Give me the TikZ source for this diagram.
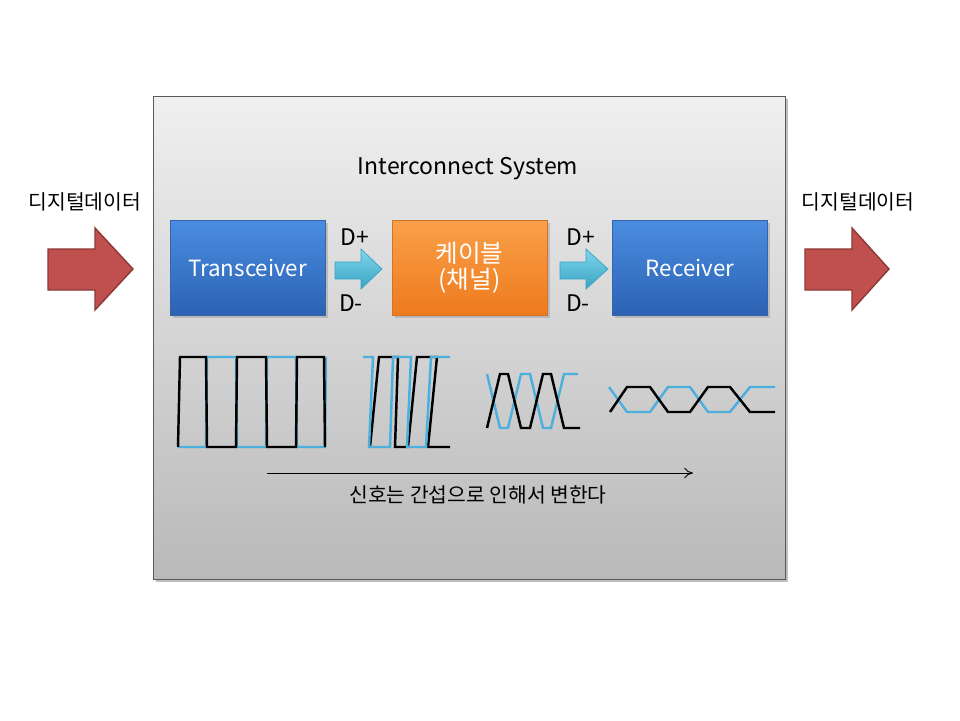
\documentclass[tikz,border=0pt]{standalone}
\usepackage{fontspec}
\setmainfont{Noto Sans CJK KR}
\usetikzlibrary{positioning,arrows.meta,shadows}

\definecolor{panelline}{HTML}{5A5A5A}
\definecolor{blueTop}{HTML}{4A8DE0}
\definecolor{blueBot}{HTML}{2C62B4}
\definecolor{blueLine}{HTML}{3565A8}
\definecolor{orangeTop}{HTML}{FAA048}
\definecolor{orangeBot}{HTML}{EE7A1E}
\definecolor{orangeLine}{HTML}{D0742A}
\definecolor{redFill}{HTML}{C0504D}
\definecolor{redLine}{HTML}{8C3836}
\definecolor{cyanTop}{HTML}{7FD6EC}
\definecolor{cyanBot}{HTML}{3AA3C4}
\definecolor{waveCyan}{HTML}{4DB0DC}

\tikzset{
  block/.style={minimum width=3.1cm, minimum height=1.9cm, text=white,
    font=\fontsize{12.7}{14}\selectfont, align=center,
    drop shadow={opacity=0.35, shadow xshift=1.5pt, shadow yshift=-1.5pt}},
  blueblock/.style={block, top color=blueTop, bottom color=blueBot, draw=blueLine},
  orangeblock/.style={block, top color=orangeTop, bottom color=orangeBot, draw=orangeLine,
    font=\fontsize{14}{15}\selectfont},
  bigarrow/.style={fill=redFill, draw=redLine, line width=0.8pt},
  smallarrow/.style={top color=cyanTop, bottom color=cyanBot, draw=cyanBot, line width=0.4pt},
  wave/.style={line width=1.4pt, line join=miter},
  lbl/.style={font=\fontsize{13}{14}\selectfont},
  hangul/.style={font=\fontsize{11.6}{13}\selectfont}
}

\begin{document}
\begin{tikzpicture}[x=0.02cm, y=-0.02cm, >=Stealth]
\useasboundingbox (0,0) rectangle (960,720);

% Panel
\fill[black, opacity=0.25] (156,99) rectangle (788,582);
\shade[top color=gray!12, bottom color=gray!55, draw=panelline, line width=0.5pt] (153,96) rectangle (785,579);
\node[font=\fontsize{13.1}{15}\selectfont] (title) at (468,169) {Interconnect System};

% Data in / out
\node[hangul] (inlbl) at (85,202) {디지털데이터};
\node[hangul] (outlbl) at (858,202) {디지털데이터};
\draw[bigarrow] (48,249) -- (95,249) -- (95,228) -- (133,269) -- (95,310) -- (95,290) -- (48,290) -- cycle;
\draw[bigarrow] (805,249) -- (852,249) -- (852,228) -- (889,269) -- (852,310) -- (852,290) -- (805,290) -- cycle;

% Blocks
\node[blueblock] (tx) at (247.5,267.5) {Transceiver};
\node[orangeblock] (cable) at (469.5,267.5) {케이블\\(채널)};
\node[blueblock] (rx) at (690,267.5) {Receiver};

% D+/D- arrows
\draw[smallarrow] (335,262) -- (361,262) -- (361,249) -- (382,269) -- (361,289) -- (361,279) -- (335,279) -- cycle;
\draw[smallarrow] (560,262) -- (586,262) -- (586,249) -- (608,269) -- (586,289) -- (586,279) -- (560,279) -- cycle;
\node[lbl] (dp1) at (355,237) {D+};
\node[lbl] (dm1) at (351,303) {D-};
\node[lbl] (dp2) at (581,237) {D+};
\node[lbl] (dm2) at (578,303) {D-};

% Waveform 1
\draw[wave, waveCyan] (178,447) -- (206,447) -- (207,357) -- (236,357) -- (237,447) -- (266,447) -- (267,357) -- (296,357) -- (297,447) -- (325,447) -- (326,357);
\draw[wave, black] (178,447) -- (180,357) -- (206,357) -- (207,447) -- (236,447) -- (237,357) -- (266,357) -- (267,447) -- (296,447) -- (297,357) -- (324,357) -- (325,447);

% Waveform 2
\draw[wave, black] (370,447) -- (379,357) -- (398,357) -- (395,447) -- (408,447) -- (417,357) -- (437,357) -- (428,447) -- (450,447);
\draw[wave, waveCyan] (363,357) -- (373,357) -- (369,447) -- (390,447) -- (393,357) -- (411,357) -- (407,447) -- (426,447) -- (431,357) -- (450,357);

% Waveform 3
\draw[wave, waveCyan] (487,374) -- (500,428) -- (508,428) -- (521,374) -- (530,374) -- (543,428) -- (551,428) -- (564,374) -- (578,374);
\draw[wave, black] (487,428) -- (500,374) -- (508,374) -- (521,428) -- (530,428) -- (543,374) -- (551,374) -- (564,428) -- (580,428);

% Waveform 4
\draw[wave, waveCyan] (609,387) -- (627,412) -- (650,412) -- (668,387) -- (690,387) -- (708,412) -- (730,412) -- (750,387) -- (775,387);
\draw[wave, black] (610,412) -- (627,387) -- (650,387) -- (668,412) -- (690,412) -- (708,387) -- (730,387) -- (750,412) -- (775,412);

% Interference arrow
\coordinate (tstart) at (267,473);
\coordinate (tend) at (693,473);
\draw[-{To[length=5pt,width=6pt]}, line width=0.5pt] (tstart) -- (tend);
\node[hangul] (note) at (478,495) {신호는 간섭으로 인해서 변한다};

\end{tikzpicture}
\end{document}
